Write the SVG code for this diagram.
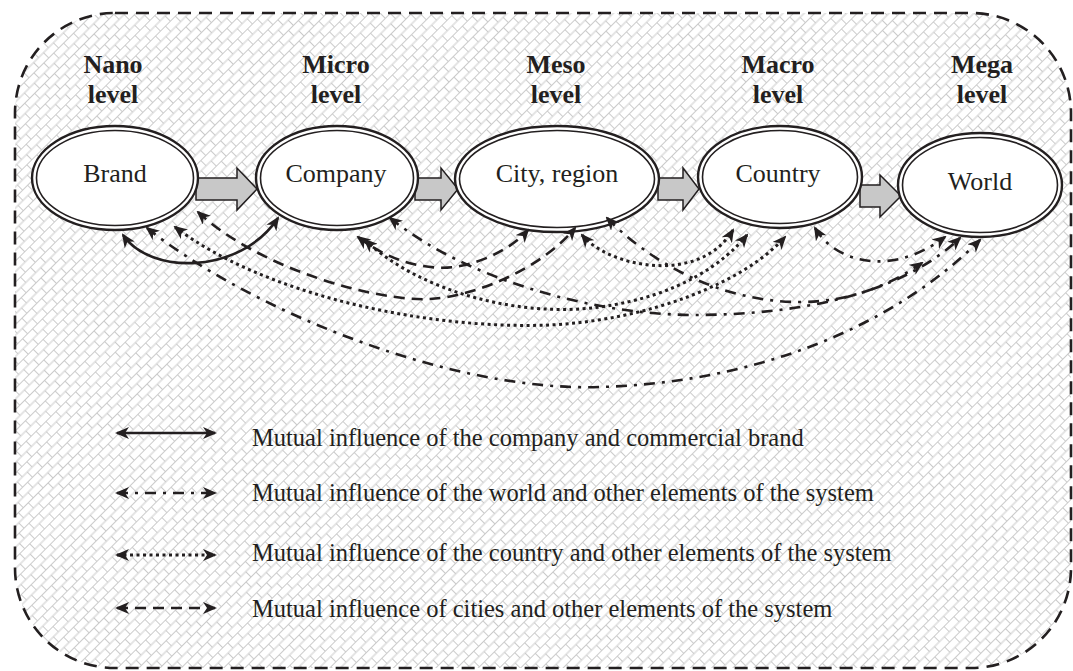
<svg xmlns="http://www.w3.org/2000/svg" width="1073" height="671" viewBox="0 0 1073 671">
<style>
.lvl{font-family:"Liberation Serif",serif;font-weight:bold;font-size:26px;fill:#231f20;text-anchor:middle}
.nt{font-family:"Liberation Serif",serif;font-size:26px;fill:#231f20;text-anchor:middle}
.lg{font-family:"Liberation Serif",serif;font-size:24.5px;fill:#231f20}
.eo{fill:#fff;stroke:#231f20;stroke-width:2.4}
.ei{fill:none;stroke:#231f20;stroke-width:1.6}
.big{fill:#c8c8c8;stroke:#231f20;stroke-width:1.5;stroke-linejoin:miter}
.c{fill:none;stroke:#231f20;stroke-width:2.6;marker-start:url(#ah);marker-end:url(#ah)}
.dash{stroke-dasharray:11 7}
.dot{stroke-dasharray:3 3.5;stroke-width:3}
.dd{stroke-dasharray:11 7 3 7}
</style>
<defs>
<pattern id="brick" width="14" height="15" patternUnits="userSpaceOnUse" patternTransform="rotate(-45)">
<rect width="14" height="15" fill="#fff"/>
<path d="M0,0.5H14M0,8H14M0.5,0V8M7.5,8V15" stroke="#cbcbcb" stroke-width="1" fill="none"/>
</pattern>
<marker id="ah" viewBox="0 0 14 12" refX="12" refY="6" markerWidth="14" markerHeight="12" markerUnits="userSpaceOnUse" orient="auto-start-reverse">
<path d="M0,0 L14,6 L0,12 L4,6 z" fill="#231f20"/>
</marker>
</defs>
<rect x="15" y="13" width="1056" height="655" rx="100" ry="100" fill="url(#brick)" stroke="#231f20" stroke-width="2.6" stroke-dasharray="13 8"/>

<g id="levels">
<text class="lvl" x="113" y="73">Nano</text><text class="lvl" x="113" y="103">level</text>
<text class="lvl" x="336" y="73">Micro</text><text class="lvl" x="336" y="103">level</text>
<text class="lvl" x="556" y="73">Meso</text><text class="lvl" x="556" y="103">level</text>
<text class="lvl" x="778" y="73">Macro</text><text class="lvl" x="778" y="103">level</text>
<text class="lvl" x="982" y="73">Mega</text><text class="lvl" x="982" y="103">level</text>
</g>

<g id="flow">
<path class="big" d="M196,178 H237 V168 L257,189 L237,210 V200 H196 Z"/>
<path class="big" d="M415,178 H441 V168 L458,189 L441,210 V200 H415 Z"/>
<path class="big" d="M658,178 H683 V168 L699,189 L683,210 V200 H658 Z"/>
<path class="big" d="M860,185 H880 V175 L901,196 L880,217 V207 H860 Z"/>
</g>

<g id="brand"><ellipse class="eo" cx="115" cy="178" rx="83" ry="52"/><ellipse class="ei" cx="115" cy="178" rx="78.5" ry="47.5"/><text class="nt" x="115" y="182">Brand</text></g>
<g id="company"><ellipse class="eo" cx="337" cy="178" rx="81" ry="52"/><ellipse class="ei" cx="337" cy="178" rx="76.5" ry="47.5"/><text class="nt" x="336" y="182">Company</text></g>
<g id="city"><ellipse class="eo" cx="557" cy="179" rx="102" ry="53"/><ellipse class="ei" cx="557" cy="179" rx="97.5" ry="48.5"/><text class="nt" x="557" y="182">City, region</text></g>
<g id="country"><ellipse class="eo" cx="780" cy="177" rx="82" ry="51"/><ellipse class="ei" cx="780" cy="177" rx="77.5" ry="46.5"/><text class="nt" x="778" y="182">Country</text></g>
<g id="world"><ellipse class="eo" cx="980" cy="185" rx="82" ry="52"/><ellipse class="ei" cx="980" cy="185" rx="77.5" ry="47.5"/><text class="nt" x="980" y="190">World</text></g>

<g id="connectors">
<path class="c" d="M123,235 C150,275 240,275 278,218"/>
<path class="c dash" d="M198,212 C260,270 380,302 430,299 C480,296 545,265 575,228"/>
<path class="c dash" d="M358,237 C390,262 430,272 460,266 C490,260 515,245 528,230"/>
<path class="c dot" d="M582,235 C610,268 700,285 733,230"/>
<path class="c dot" d="M365,240 C420,292 520,318 600,307 C680,296 725,262 747,235"/>
<path class="c dot" d="M175,227 C260,292 420,330 550,325 C650,320 745,282 785,237"/>
<path class="c dd" d="M147,228 C250,310 450,392 600,387 C750,383 890,330 980,240"/>
<path class="c dd" d="M390,218 C470,282 600,316 700,315 C800,314 900,295 960,238"/>
<path class="c dd" d="M607,218 C650,262 720,302 800,302 C850,302 890,285 922,263"/>
<path class="c dd" d="M815,228 C835,262 890,278 945,237"/>
</g>

<g id="legend">
<line class="c" x1="117" y1="433" x2="215" y2="433"/>
<line class="c dd" x1="117" y1="493" x2="215" y2="493"/>
<line class="c dot" x1="117" y1="555" x2="215" y2="555"/>
<line class="c dash" x1="117" y1="608" x2="215" y2="608"/>
<text class="lg" x="252" y="446">Mutual influence of the company and commercial brand</text>
<text class="lg" x="252" y="501">Mutual influence of the world and other elements of the system</text>
<text class="lg" x="252" y="561">Mutual influence of the country and other elements of the system</text>
<text class="lg" x="252" y="617">Mutual influence of cities and other elements of the system</text>
</g>
</svg>
